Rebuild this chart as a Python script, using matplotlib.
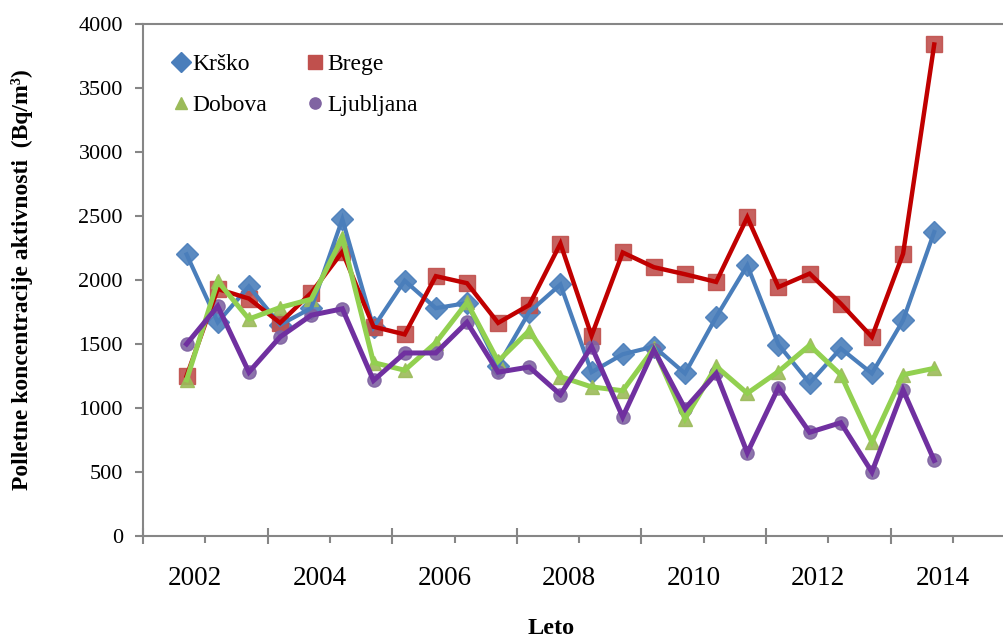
import matplotlib
matplotlib.use("Agg")
import matplotlib.pyplot as plt
import matplotlib.transforms as mtransforms
from matplotlib.lines import Line2D
from matplotlib.ticker import FixedLocator, NullFormatter

plt.rcParams["font.family"] = ["Liberation Serif", "DejaVu Serif"]

# half-year sampling periods (decimal year, middle of each period)
periods = [2001.7, 2002.2, 2002.7, 2003.2, 2003.7, 2004.2, 2004.7, 2005.2,
           2005.7, 2006.2, 2006.7, 2007.2, 2007.7, 2008.2, 2008.7, 2009.2,
           2009.7, 2010.2, 2010.7, 2011.2, 2011.7, 2012.2, 2012.7, 2013.2,
           2013.7]

krsko = [2200, 1670, 1950, 1650, 1780, 2475, 1630, 1995, 1780, 1820,
         1330, 1750, 1965, 1280, 1420, 1480, 1270, 1710, 2115, 1495,
         1195, 1465, 1270, 1685, 2375]
brege = [1250, 1930, 1855, 1665, 1900, 2220, 1635, 1575, 2030, 1975,
         1665, 1805, 2285, 1565, 2215, 2100, 2045, 1985, 2490, 1945,
         2050, 1815, 1555, 2205, 3840]
dobova = [1220, 1990, 1695, 1785, 1850, 2330, 1355, 1295, 1510, 1825,
          1365, 1605, 1245, 1165, 1135, 1465, 915, 1325, 1115, 1285,
          1490, 1260, 735, 1260, 1310]
ljubljana = [1500, 1795, 1280, 1555, 1725, 1775, 1215, 1430, 1430, 1670,
             1280, 1320, 1105, 1480, 930, 1455, 995, 1270, 650, 1160,
             810, 885, 500, 1140, 590]

year_labels = ["2002", "2004", "2006", "2008", "2010", "2012", "2014"]
label_years = [2002, 2004, 2006, 2008, 2010, 2012, 2014]
boundary_years = [2001, 2003, 2005, 2007, 2009, 2011, 2013]

series = [
    ("Krško", krsko, "D", 11.5, "#4A7EBB", "#4A7EBB", 3.0),
    ("Brege", brege, "s", 11.5, "#C0504D", "#C00000", 3.2),
    ("Dobova", dobova, "^", 10, "#9BBB59", "#92D050", 3.6),
    ("Ljubljana", ljubljana, "o", 9.5, "#8064A2", "#7030A0", 3.6),
]

fig = plt.figure(figsize=(10.04, 6.37), dpi=100)
ax = fig.add_axes([143 / 1004, 101 / 637, 861 / 1004, 512 / 637])

handles = {}
for name, vals, mk, ms, mcol, lcol, lw in series:
    ax.plot(periods, vals, linestyle="none", marker=mk, markersize=ms,
            markerfacecolor=mcol, markeredgecolor=mcol, alpha=0.9, zorder=2)
    ax.plot(periods, vals, color=lcol, linewidth=lw, zorder=3,
            solid_joinstyle="miter")
    handles[name] = Line2D([], [], linestyle="none", marker=mk, markersize=ms * 0.85,
                           markerfacecolor=mcol, markeredgecolor=mcol)

ax.set_xlim(2001, 2014.82)
ax.set_ylim(0, 4000)
ax.set_yticks(range(0, 4001, 500))

ax.xaxis.set_major_locator(FixedLocator(boundary_years))
ax.xaxis.set_major_formatter(NullFormatter())
ax.xaxis.set_minor_locator(FixedLocator(label_years))
ax.set_xticklabels(year_labels, minor=True)

grey = "#868686"
for side in ["left", "bottom", "top"]:
    ax.spines[side].set_color(grey)
    ax.spines[side].set_linewidth(1.5)
ax.spines["right"].set_visible(False)

ax.tick_params(axis="x", which="major", direction="inout", length=12,
               width=1.5, color=grey)
ax.tick_params(axis="x", which="minor", direction="out", length=5,
               width=1.5, color=grey, labelsize=19.5, pad=16.5)
ax.tick_params(axis="y", direction="out", length=6, width=1.5, color=grey,
               labelsize=16, pad=8.5)

# year labels sit slightly left of their tick
shift = mtransforms.ScaledTranslation(-10 / 100, 0, fig.dpi_scale_trans)
for lbl in ax.get_xticklabels(minor=True):
    lbl.set_transform(lbl.get_transform() + shift)

ax.set_xlabel("Leto", fontsize=17.5, fontweight="bold")
ax.xaxis.set_label_coords(0.474, -0.16)
ax.set_ylabel("Polletne koncentracije aktivnosti  (Bq/m³)", fontsize=17,
              fontweight="bold")
ax.yaxis.set_label_coords(-0.128, 0.5)

order = ["Krško", "Dobova", "Brege", "Ljubljana"]
ax.legend([handles[n] for n in order], order, ncol=2, loc="upper left",
          bbox_to_anchor=(0.023, 0.96), frameon=False, fontsize=17,
          handlelength=0.7, handletextpad=0.15, columnspacing=1.7,
          labelspacing=0.8, borderaxespad=0)

fig.savefig("out.png", dpi=100)
